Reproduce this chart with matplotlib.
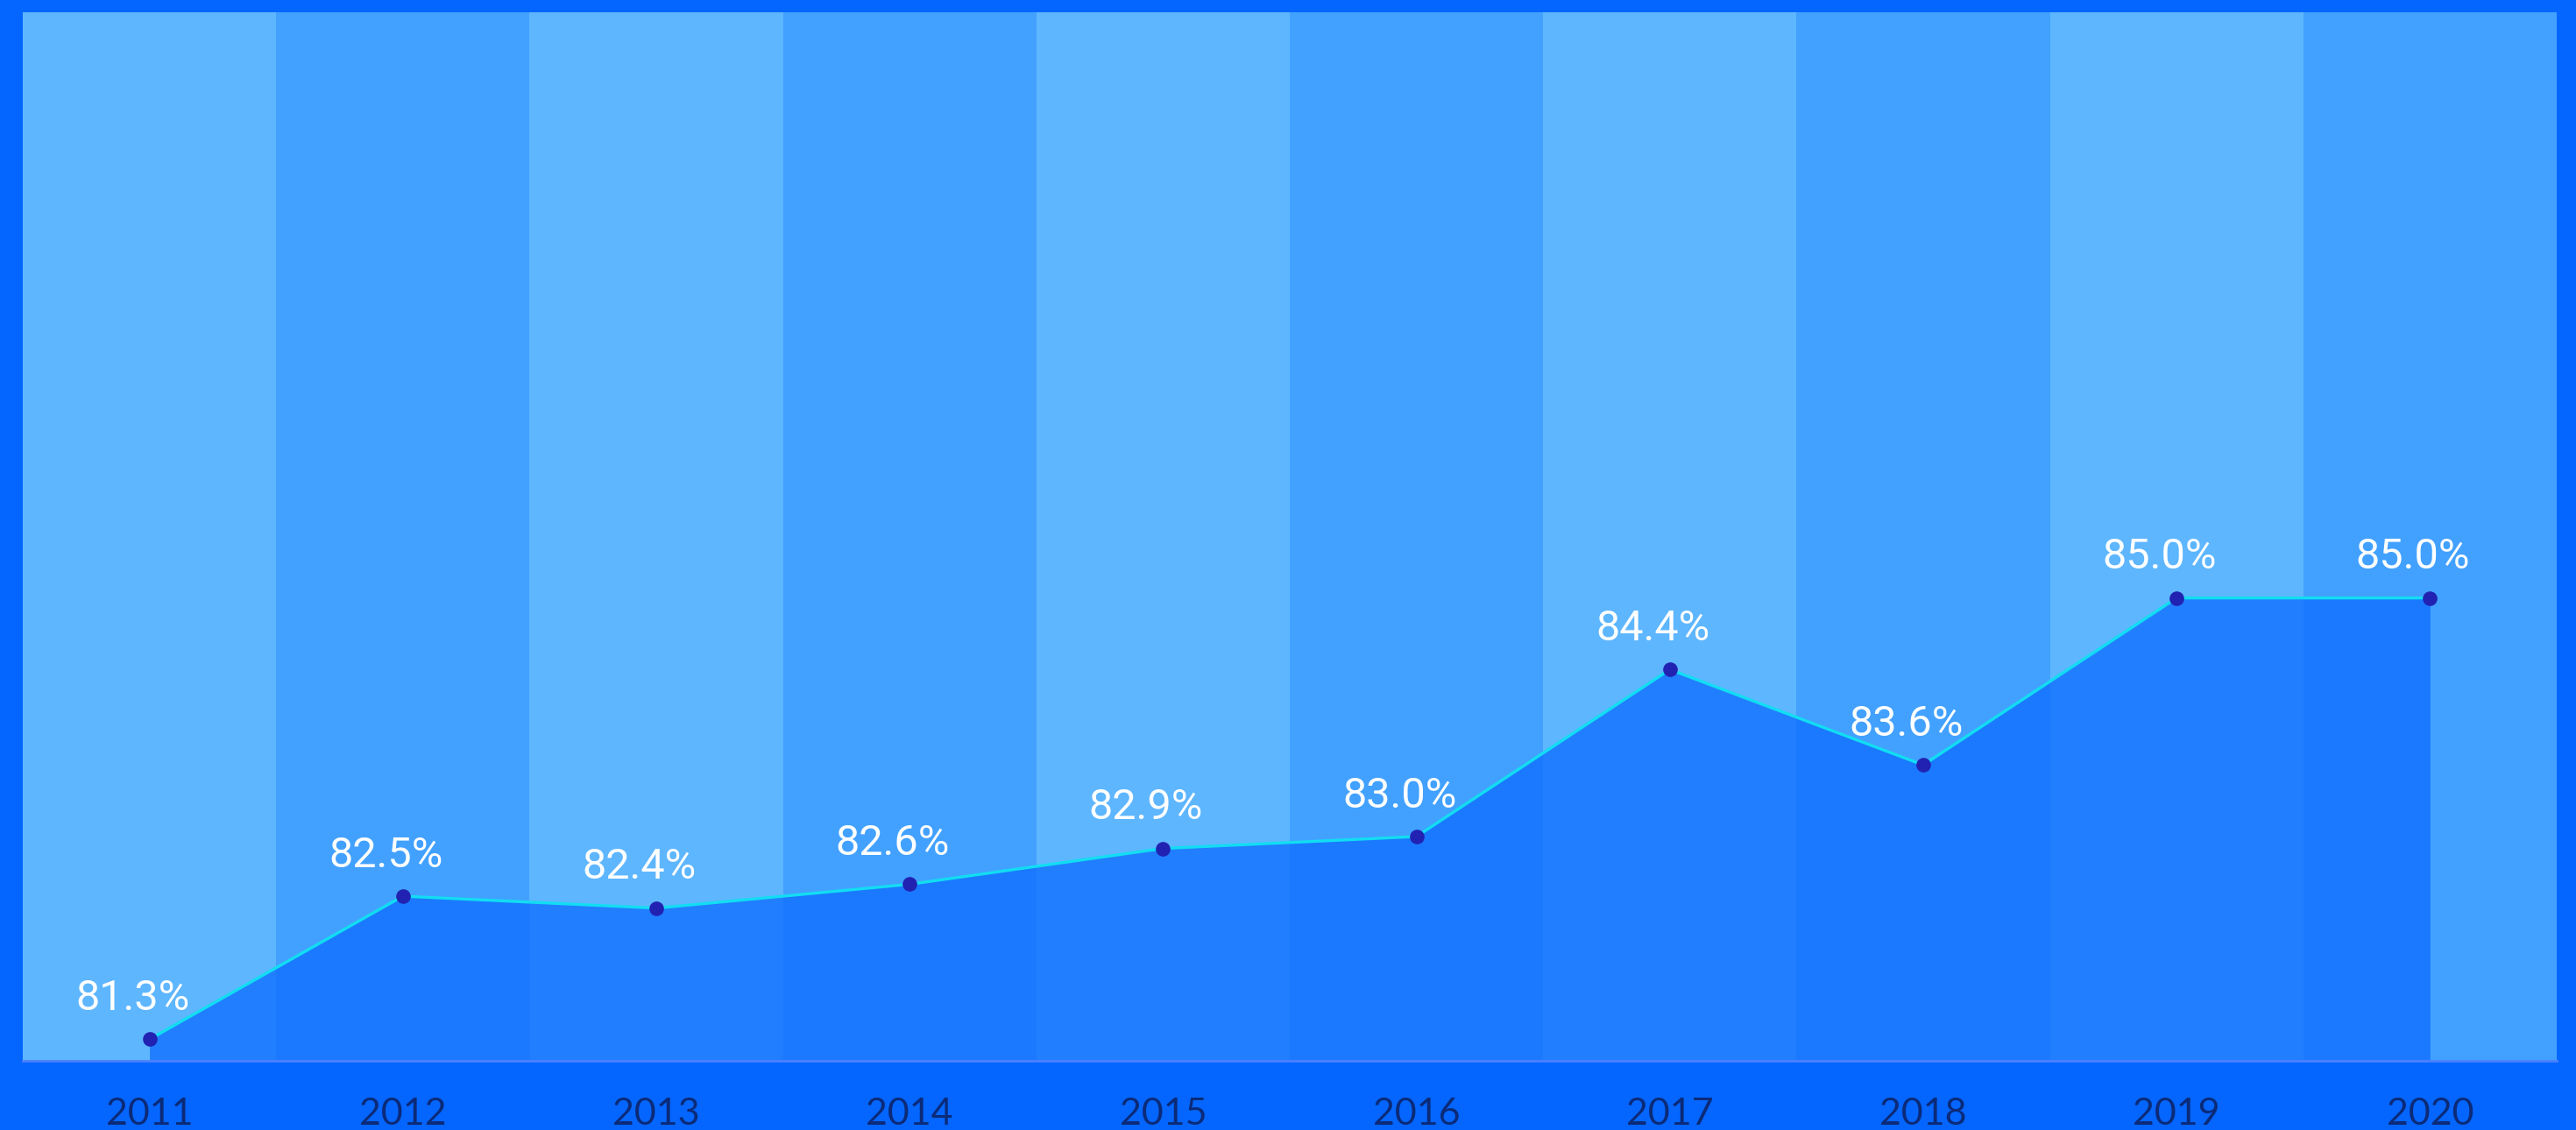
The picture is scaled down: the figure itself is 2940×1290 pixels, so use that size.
import numpy as np
import matplotlib.pyplot as plt

years = ['2011', '2012', '2013', '2014', '2015', '2016', '2017', '2018', '2019', '2020']
rates = [81.3, 82.5, 82.4, 82.6, 82.9, 83.0, 84.4, 83.6, 85.0, 85.0]
labels = ['81.3%', '82.5%', '82.4%', '82.6%', '82.9%', '83.0%', '84.4%', '83.6%', '85.0%', '85.0%']

ymin, ymax = 81.12, 89.91

fig = plt.figure(figsize=(29.4, 12.9), dpi=100, facecolor='#0466FF')
ax = fig.add_axes([26/2940, 1 - 1211/1290, 2892/2940, 1197/1290])
ax.set_facecolor('#0466FF')

x = np.arange(len(years))

###alternating column backgrounds
for i in x:
    col = '#5EB6FF' if i % 2 == 0 else '#42A1FF'
    ax.axvspan(i - 0.5, i + 0.5, color=col, lw=0, zorder=0)

###area + line + points
ax.fill_between(x, rates, ymin, color='#0D6CFF', alpha=0.75, lw=0, zorder=1)
ax.plot(x, rates, color='#12DDF2', lw=2.4, zorder=2)
ax.plot(x, rates, 'o', color='#2222B2', ms=12, mec='none', zorder=3)

for xi, yi, lab in zip(x, rates, labels):
    ax.annotate(lab, (xi, yi), xytext=(-14, 24), textcoords='offset points',
                ha='center', va='baseline', color='white', fontsize=35,
                family='Roboto', zorder=4)

ax.set_xlim(-0.5, 9.5)
ax.set_ylim(ymin, ymax)
ax.set_xticks(x)
ax.set_xticklabels(years, fontsize=31, color='#0B2A78', family='Lato')
ax.tick_params(axis='x', length=0, pad=30)
ax.set_yticks([])
for s in ['top', 'left', 'right']:
    ax.spines[s].set_visible(False)
ax.spines['bottom'].set_color('#4D80FF')
ax.spines['bottom'].set_linewidth(2)

plt.savefig('out.png', dpi=100, facecolor=fig.get_facecolor())
